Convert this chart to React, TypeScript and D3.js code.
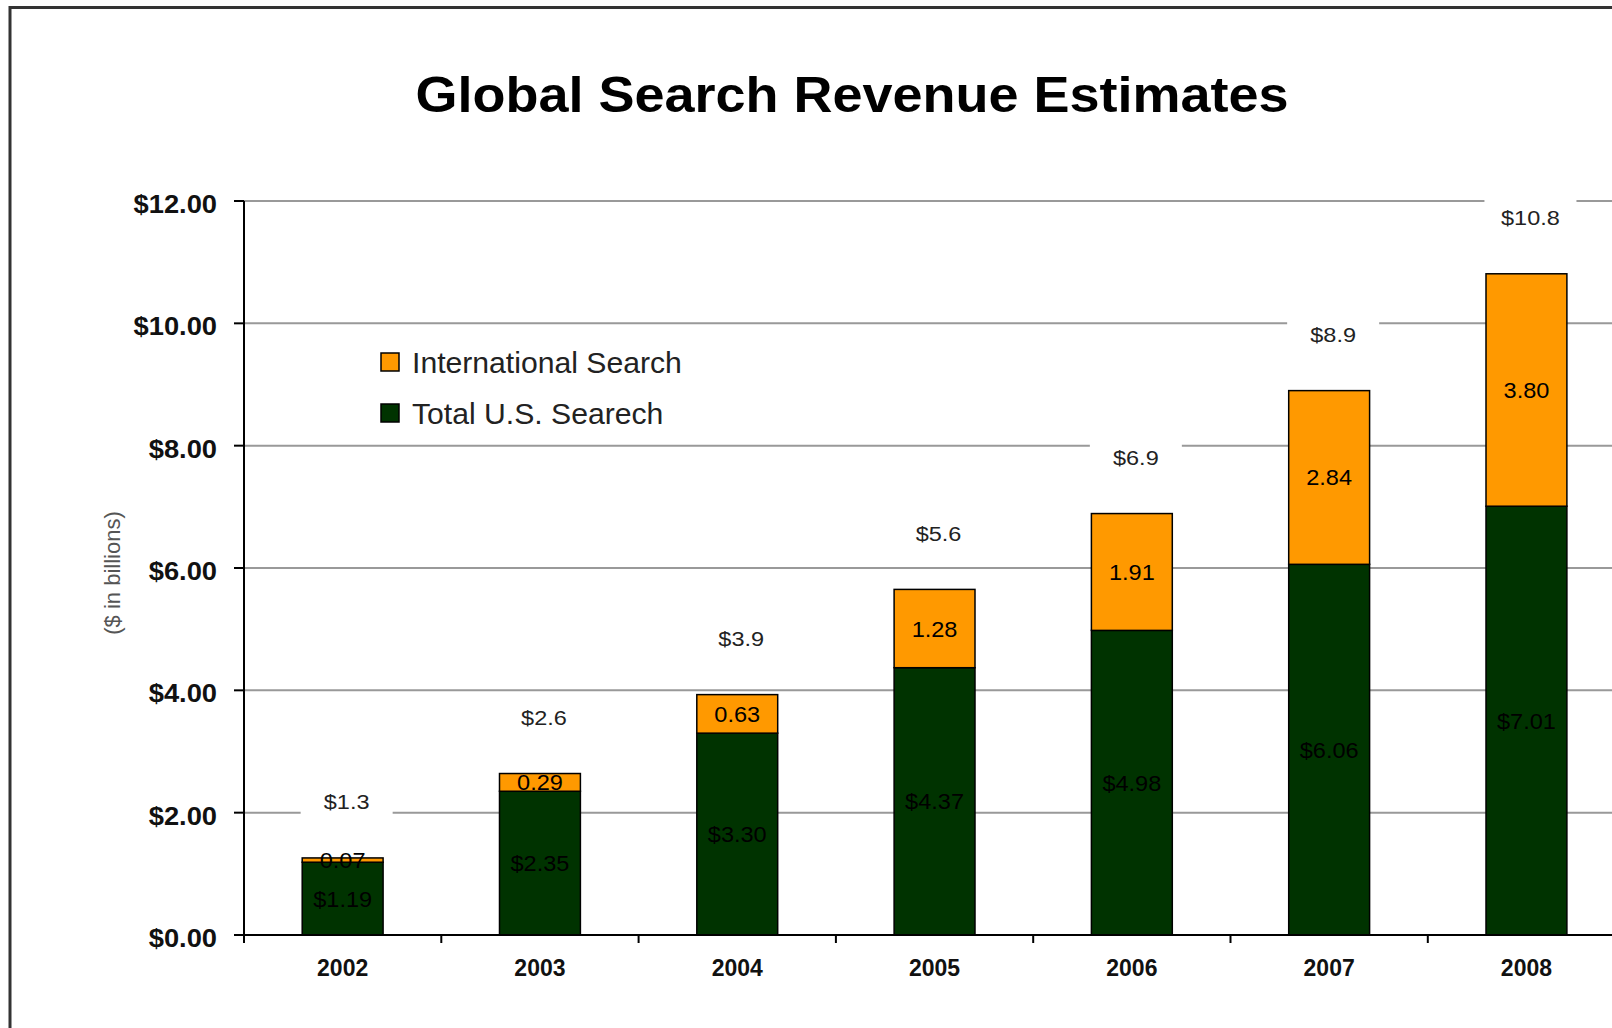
import React from "react";
import * as d3 from "d3";

const years = ["2002", "2003", "2004", "2005", "2006", "2007", "2008"];
const usSearch = [1.19, 2.35, 3.3, 4.37, 4.98, 6.06, 7.01];
const intlSearch = [0.07, 0.29, 0.63, 1.28, 1.91, 2.84, 3.8];
const totalLabels = ["$1.3", "$2.6", "$3.9", "$5.6", "$6.9", "$8.9", "$10.8"];
const yTicks = [0, 2, 4, 6, 8, 10, 12];
const legendItems = ["International Search", "Total U.S. Searech"];

const W = 1612;
const H = 1028;
const GREEN = "#003300";
const ORANGE = "#FF9900";
const FONT = "'Liberation Sans', Arial, Helvetica, sans-serif";

type TProps = {
  x: number;
  y: number;
  sx?: number;
  size: number;
  weight?: string | number;
  fill?: string;
  anchor?: "start" | "middle" | "end";
  rotate?: number;
  children: React.ReactNode;
};

function T({ x, y, sx = 1, size, weight = "normal", fill = "#000", anchor = "middle", rotate = 0, children }: TProps) {
  return (
    <text
      transform={`translate(${x},${y}) rotate(${rotate}) scale(${sx},1)`}
      fontFamily={FONT}
      fontSize={size}
      fontWeight={weight}
      fill={fill}
      textAnchor={anchor}
    >
      {children}
    </text>
  );
}

export default function App() {
  const x0 = 244;
  const step = 197.3;
  const y0 = 935;
  const y12 = 201;

  const x = d3
    .scaleBand<string>()
    .domain(years)
    .range([x0, x0 + step * years.length])
    .paddingInner(0.59)
    .paddingOuter(0.295);
  const y = d3.scaleLinear().domain([0, 12]).range([y0, y12]);

  const stack = years.map((yr, i) => ({
    yr,
    us: usSearch[i],
    intl: intlSearch[i],
    total: usSearch[i] + intlSearch[i],
    label: totalLabels[i],
  }));

  const bw = x.bandwidth();
  const boundaries = years.map((yr) => (x(yr) as number) - (x.step() * x.paddingInner()) / 2);
  boundaries.push(x0 + step * years.length);

  return (
    <svg width={W} height={H} style={{ position: "absolute", left: 0, top: 0, background: "#fff" }}>
      <rect x={0} y={0} width={W} height={H} fill="#fff" />
      {/* outer frame */}
      <rect x={10} y={7.5} width={W + 50} height={H + 50} fill="none" stroke="#333" strokeWidth={3} />

      {/* title */}
      <T x={852} y={112} size={50} weight="bold" sx={1.08} fill="#000">
        Global Search Revenue Estimates
      </T>

      {/* gridlines */}
      {yTicks
        .filter((t) => t > 0)
        .map((t) => (
          <line key={"g" + t} x1={x0} x2={W} y1={y(t)} y2={y(t)} stroke="#999" strokeWidth={2} />
        ))}

      {/* total labels with white boxes */}
      {stack.map((d) => {
        const cx = (x(d.yr) as number) + bw / 2 + 4;
        const cy = y(d.total) - 56;
        return (
          <g key={"t" + d.yr}>
            <rect x={cx - 46} y={cy - 20} width={92} height={37} fill="#fff" />
            <T x={cx} y={cy + 7.5} size={21} sx={1.12} fill="#222">
              {d.label}
            </T>
          </g>
        );
      })}

      {/* bars */}
      {stack.map((d) => {
        const bx = x(d.yr) as number;
        return (
          <g key={"b" + d.yr}>
            <rect x={bx} y={y(d.us)} width={bw} height={y(0) - y(d.us)} fill={GREEN} stroke="#000" strokeWidth={1.5} />
            <rect x={bx} y={y(d.total)} width={bw} height={y(d.us) - y(d.total)} fill={ORANGE} stroke="#000" strokeWidth={1.5} />
          </g>
        );
      })}

      {/* segment labels */}
      {stack.map((d) => {
        const cx = (x(d.yr) as number) + bw / 2;
        return (
          <g key={"s" + d.yr}>
            <T x={cx} y={y(d.us / 2) + 8} size={22} sx={1.07} fill="#000">
              {"$" + d.us.toFixed(2)}
            </T>
            <T x={cx} y={y(d.us + d.intl / 2) + 8} size={22} sx={1.07} fill="#000">
              {d.intl.toFixed(2)}
            </T>
          </g>
        );
      })}

      {/* axes */}
      <line x1={x0} x2={x0} y1={y12} y2={y0 + 8} stroke="#000" strokeWidth={2} />
      <line x1={x0 - 10} x2={W} y1={y0} y2={y0} stroke="#000" strokeWidth={2} />
      {yTicks.map((t) => (
        <g key={"yt" + t}>
          <line x1={x0 - 10} x2={x0} y1={y(t)} y2={y(t)} stroke="#000" strokeWidth={2} />
          <T x={217} y={y(t) + 12} size={26} weight="bold" sx={1.05} anchor="end" fill="#111">
            {"$" + d3.format(".2f")(t)}
          </T>
        </g>
      ))}
      {boundaries.map((bx, i) => (
        <line key={"xt" + i} x1={bx} x2={bx} y1={y0} y2={y0 + 8} stroke="#000" strokeWidth={2} />
      ))}
      {years.map((yr) => (
        <T key={"xl" + yr} x={(x(yr) as number) + bw / 2} y={976} size={23} weight="bold" fill="#111">
          {yr}
        </T>
      ))}

      {/* y-axis title */}
      <T x={120} y={573} size={22} rotate={-90} fill="#555">
        ($ in billions)
      </T>

      {/* legend */}
      {legendItems.map((name, i) => {
        const ly = 353 + i * 51;
        return (
          <g key={"l" + i}>
            <rect x={381} y={ly} width={18} height={18} fill={i === 0 ? ORANGE : GREEN} stroke="#000" strokeWidth={1.5} />
            <T x={412} y={ly + 20} size={29} sx={1.04} anchor="start" fill="#222">
              {name}
            </T>
          </g>
        );
      })}
    </svg>
  );
}
